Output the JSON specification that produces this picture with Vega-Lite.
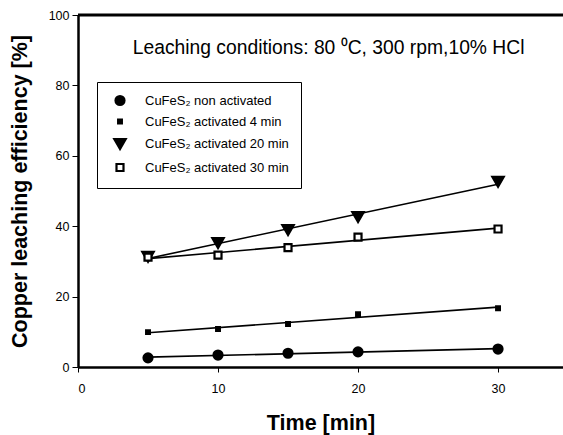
{
  "$schema": "https://vega.github.io/schema/vega-lite/v6.json",
  "width": 485,
  "height": 352,
  "autosize": {"type": "none"},
  "padding": {"left": 78, "top": 15, "right": 0, "bottom": 68},
  "background": "white",
  "config": {
    "view": {"stroke": null},
    "font": "Liberation Sans",
    "axis": {
      "grid": false,
      "domainColor": "black",
      "domainWidth": 2.5,
      "tickColor": "black",
      "tickWidth": 1,
      "labelColor": "black",
      "labelFont": "Liberation Sans",
      "labelFontSize": 12.5,
      "titleColor": "black",
      "titleFont": "Liberation Sans",
      "titleFontWeight": "bold",
      "titleFontSize": 21.5
    }
  },
  "datasets": {
    "points": [
      {"series": "CuFeS₂ non activated", "time": 5, "value": 2.6},
      {"series": "CuFeS₂ non activated", "time": 10, "value": 3.4},
      {"series": "CuFeS₂ non activated", "time": 15, "value": 3.9},
      {"series": "CuFeS₂ non activated", "time": 20, "value": 4.3},
      {"series": "CuFeS₂ non activated", "time": 30, "value": 5.1},
      {"series": "CuFeS₂ activated 4 min", "time": 5, "value": 9.9},
      {"series": "CuFeS₂ activated 4 min", "time": 10, "value": 10.8},
      {"series": "CuFeS₂ activated 4 min", "time": 15, "value": 12.2},
      {"series": "CuFeS₂ activated 4 min", "time": 20, "value": 15.0},
      {"series": "CuFeS₂ activated 4 min", "time": 30, "value": 16.7},
      {"series": "CuFeS₂ activated 20 min", "time": 5, "value": 31.3},
      {"series": "CuFeS₂ activated 20 min", "time": 10, "value": 35.2},
      {"series": "CuFeS₂ activated 20 min", "time": 15, "value": 38.9},
      {"series": "CuFeS₂ activated 20 min", "time": 20, "value": 42.6},
      {"series": "CuFeS₂ activated 20 min", "time": 30, "value": 52.6},
      {"series": "CuFeS₂ activated 30 min", "time": 5, "value": 31.2},
      {"series": "CuFeS₂ activated 30 min", "time": 10, "value": 31.8},
      {"series": "CuFeS₂ activated 30 min", "time": 15, "value": 33.9},
      {"series": "CuFeS₂ activated 30 min", "time": 20, "value": 36.9},
      {"series": "CuFeS₂ activated 30 min", "time": 30, "value": 39.2}
    ],
    "note": [
      {"label": "Leaching conditions: 80 ⁰C, 300 rpm,10% HCl"}
    ]
  },
  "layer": [
    {
      "data": {"name": "points"},
      "transform": [{"regression": "value", "on": "time", "groupby": ["series"]}],
      "mark": {"type": "line", "color": "black", "strokeWidth": 1.6},
      "encoding": {
        "x": {"field": "time", "type": "quantitative", "scale": {"domain": [0, 34.64], "nice": false},
          "axis": {"values": [0, 10, 20, 30], "tickSize": 5, "labelPadding": 10, "title": "Time [min]", "titlePadding": 18}},
        "y": {"field": "value", "type": "quantitative", "scale": {"domain": [0, 100], "nice": false},
          "axis": {"values": [0, 20, 40, 60, 80, 100], "tickSize": 6, "labelPadding": 3, "title": "Copper leaching efficiency [%]", "titlePadding": 17}},
        "detail": {"field": "series", "type": "nominal"}
      }
    },
    {
      "data": {"name": "points"},
      "mark": {"type": "point", "filled": true, "stroke": "black", "strokeWidth": 2.2, "opacity": 1},
      "encoding": {
        "x": {"field": "time", "type": "quantitative"},
        "y": {"field": "value", "type": "quantitative"},
        "fill": {
          "field": "series", "type": "nominal",
          "scale": {
            "domain": ["CuFeS₂ non activated", "CuFeS₂ activated 4 min", "CuFeS₂ activated 20 min", "CuFeS₂ activated 30 min"],
            "range": ["black", "black", "black", "white"]
          },
          "legend": {
            "title": null, "orient": "none", "legendX": 19, "legendY": 67,
            "strokeColor": "black", "fillColor": "white",
            "padding": 12, "rowPadding": 5, "labelFontSize": 13, "labelColor": "black",
            "labelFont": "Liberation Sans", "labelOffset": 18, "symbolOffset": 4,
            "symbolStrokeColor": "black", "symbolStrokeWidth": 2.2, "symbolOpacity": 1,
            "labelLimit": 300
          }
        },
        "shape": {
          "field": "series", "type": "nominal",
          "scale": {
            "domain": ["CuFeS₂ non activated", "CuFeS₂ activated 4 min", "CuFeS₂ activated 20 min", "CuFeS₂ activated 30 min"],
            "range": ["circle", "square", "triangle-down", "square"]
          }
        },
        "size": {
          "field": "series", "type": "nominal",
          "scale": {
            "type": "ordinal",
            "domain": ["CuFeS₂ non activated", "CuFeS₂ activated 4 min", "CuFeS₂ activated 20 min", "CuFeS₂ activated 30 min"],
            "range": [81, 14, 130, 49]
          }
        }
      }
    },
    {
      "data": {"name": "note"},
      "mark": {"type": "text", "fontSize": 19.3, "font": "Liberation Sans", "color": "black", "align": "center", "baseline": "middle"},
      "encoding": {
        "x": {"datum": 17.9},
        "y": {"datum": 90.5},
        "text": {"field": "label", "type": "nominal"}
      }
    },
    {
      "data": {"name": "note"},
      "mark": {"type": "rule", "color": "black", "strokeWidth": 3},
      "encoding": {"y": {"datum": 100}}
    }
  ]
}
